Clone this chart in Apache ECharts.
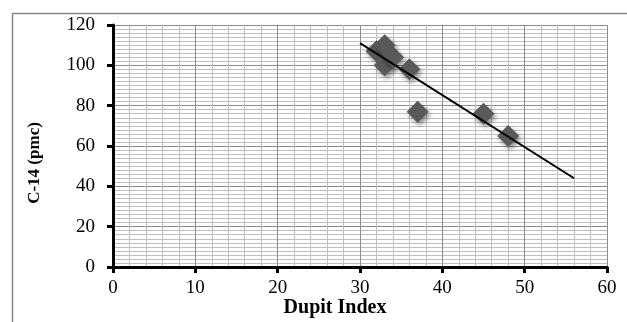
<!DOCTYPE html>
<html>
<head>
<meta charset="utf-8">
<script src="https://cdn.jsdelivr.net/npm/echarts@6/dist/echarts.min.js"></script>
<style>
html,body{margin:0;padding:0;background:#fff;}
#chart{width:627px;height:322px;}
</style>
</head>
<body>
<div id="chart"></div>
<script>
// Data
const dupitIndex = [32, 33, 33, 34, 36, 37, 45, 48];
const c14pmc     = [107, 110, 100, 104, 98, 77, 76, 65];
const trendX     = [30, 56];
const trendY     = [111, 44];
const xTicks     = [0, 10, 20, 30, 40, 50, 60];
const yTicks     = [0, 20, 40, 60, 80, 100, 120];
const xTitle = 'Dupit Index';
const yTitle = 'C-14 (pmc)';

const points = dupitIndex.map((x, i) => [x, c14pmc[i]]);
const trend = trendX.map((x, i) => [x, trendY[i]]);

const chart = echarts.init(document.getElementById('chart'), null, {renderer: 'canvas'});
const serif = '"Liberation Serif", "Times New Roman", serif';

chart.setOption({
  backgroundColor: '#ffffff',
  animation: false,
  grid: {left: 113, right: 20, top: 25, bottom: 55, containLabel: false},
  xAxis: {
    type: 'value',
    min: xTicks[0], max: xTicks[xTicks.length - 1], interval: 10,
    axisLine: {show: true, onZero: false, lineStyle: {color: '#000', width: 3}},
    axisTick: {show: true, length: 6, lineStyle: {color: '#000', width: 3}},
    axisLabel: {color: '#000', fontFamily: serif, fontSize: 19, margin: 12},
    splitLine: {show: true, lineStyle: {color: '#8c8c8c', width: 1}},
    minorTick: {show: false, splitNumber: 5},
    minorSplitLine: {show: true, lineStyle: {color: '#bfbfbf', width: 1}}
  },
  yAxis: {
    type: 'value',
    min: yTicks[0], max: yTicks[yTicks.length - 1], interval: 20,
    axisLine: {show: true, onZero: false, lineStyle: {color: '#000', width: 3}},
    axisTick: {show: true, length: 6, lineStyle: {color: '#000', width: 3}},
    axisLabel: {color: '#000', fontFamily: serif, fontSize: 19, margin: 18},
    splitLine: {show: true, lineStyle: {color: '#8c8c8c', width: 1}},
    minorTick: {show: false, splitNumber: 10},
    minorSplitLine: {show: true, lineStyle: {color: '#bfbfbf', width: 1}}
  },
  graphic: [
    {type: 'rect', left: 10, top: 11, z: -1, silent: true,
     shape: {width: 700, height: 400},
     style: {fill: 'none', stroke: '#8a8a8a', lineWidth: 1.5}},
    {type: 'text', x: 335, y: 308, silent: true,
     style: {text: xTitle, font: 'bold 20px ' + serif, fill: '#000', align: 'center', verticalAlign: 'middle'}},
    {type: 'text', x: 35, y: 163, rotation: Math.PI / 2, silent: true,
     style: {text: yTitle, font: 'bold 17px ' + serif, fill: '#000', align: 'center', verticalAlign: 'middle'}}
  ],
  series: [
    {
      type: 'scatter',
      data: points,
      symbol: 'diamond',
      symbolSize: 22,
      itemStyle: {color: '#595959', opacity: 1, shadowBlur: 5, shadowColor: 'rgba(0,0,0,0.45)', shadowOffsetX: 2, shadowOffsetY: 3},
      z: 3
    },
    {
      type: 'line',
      data: trend,
      symbol: 'none',
      lineStyle: {color: '#000', width: 2},
      z: 4
    }
  ]
});
</script>
</body>
</html>
